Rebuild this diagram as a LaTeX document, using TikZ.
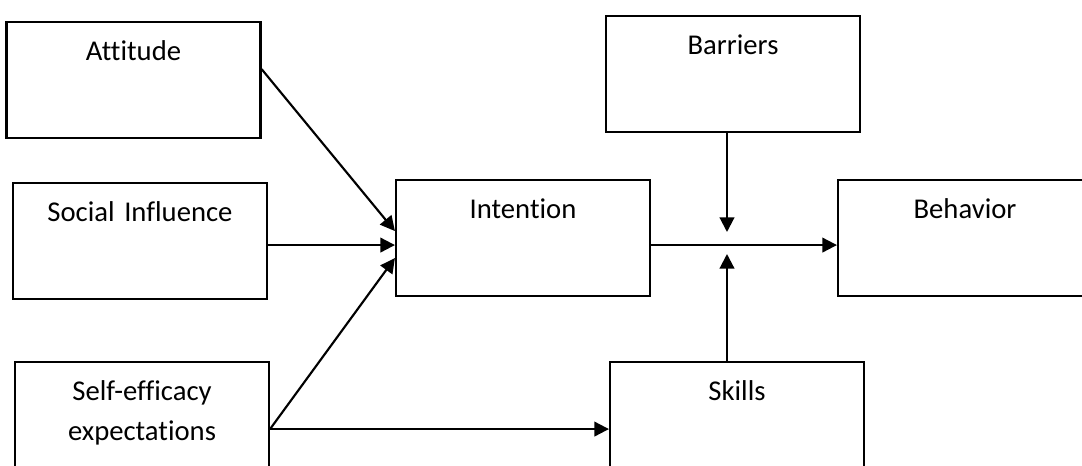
\documentclass[tikz,border=0pt]{standalone}
\usepackage{fontspec}
\setmainfont[Ligatures=NoCommon]{Carlito}
\usetikzlibrary{arrows.meta}

\begin{document}
\begin{tikzpicture}[x=0.75pt,y=-0.75pt,>={Triangle[length=11pt,width=11pt]},line width=1.6pt,
  bx/.style={draw,anchor=north,inner sep=0pt,text width=190.5pt,align=center,text height=28.9pt,text depth=58.1pt,font=\fontsize{21.5}{30}\selectfont}]
\clip (0,0) rectangle (1082,466);
\node[bx] (att) at (133.5,21) {Attitude};
\node[bx] (soc) at (140,182) {Social Influence};
\node[bx] (self) at (142,361) {Self-efficacy\\expectations};
\node[bx] (int) at (523,179) {Intention};
\node[bx] (bar) at (733,15) {Barriers};
\node[bx] (beh) at (965,179) {Behavior};
\node[bx] (sk) at (737,361) {Skills};
\coordinate (jtop) at (727,232);
\coordinate (jbot) at (727,254);
\draw[->] ([yshift=8.25pt]att.east) -- ([yshift=5.25pt]int.west);
\draw[->] ([yshift=-3pt]soc.east) -- ([yshift=-5.25pt]int.west);
\draw[->] ([yshift=-6.75pt]self.east) -- ([yshift=-15pt]int.west);
\draw[->] ([yshift=-6.75pt]self.east) -- ([yshift=-6.75pt]sk.west);
\draw[->] ([yshift=-5.25pt]int.east) -- ([yshift=-5.25pt]beh.west);
\draw[->] (jtop |- bar.south) -- (jtop);
\draw[->] (jbot |- sk.north) -- (jbot);
\end{tikzpicture}
\end{document}
